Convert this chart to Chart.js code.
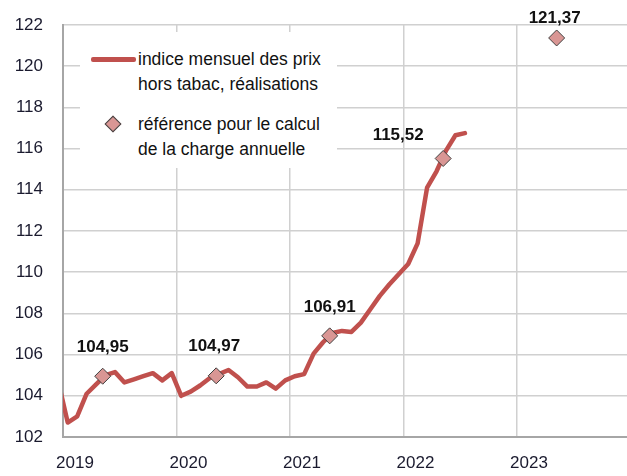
<!DOCTYPE html>
<html lang="fr">
<head>
  <meta charset="UTF-8">
  <title>Indice mensuel des prix hors tabac</title>
  <style>
    body {
      margin: 0;
      padding: 0;
      background: #fff;
      font-family: 'Liberation Sans', Arial, sans-serif;
    }
    #wrap {
      position: relative;
      width: 627px;
      height: 476px;
    }
    #legend {
      position: absolute;
      left: 80px;
      top: 32px;
      width: 257px;
      height: 136px;
      background: #fff;
      pointer-events: none;
      color: #111;
      font-size: 17.5px;
      line-height: 25px;
    }
    #legend .txt {
      position: absolute;
      left: 58px;
      white-space: nowrap;
    }
    #legend .swatch-line {
      position: absolute;
      left: 11px;
      top: 25px;
      width: 45px;
      height: 4.5px;
      background: #c0504d;
      border-radius: 2px;
    }
    #legend .swatch-diamond {
      position: absolute;
      left: 27px;
      top: 86px;
      width: 10px;
      height: 10px;
      background: #d99694;
      border: 1px solid #404040;
      transform: rotate(45deg);
    }
  </style>
</head>
<body>

<div id="wrap">
  <canvas id="chart" width="627" height="476"></canvas>
  <div id="legend">
    <div class="swatch-line"></div>
    <div class="txt" id="leg1" style="top:15px"></div>
    <div class="swatch-diamond"></div>
    <div class="txt" id="leg2" style="top:80px"></div>
  </div>
</div>

<script src="https://cdn.jsdelivr.net/npm/chart.js"></script>
<script>
  // axis
  const yearTicks = [2019, 2020, 2021, 2022, 2023];

  // monthly index, Dec 2018 -> Jul 2022 (first point is cut by the axis)
  const firstYear = 2018, firstMonth = 12;
  const monthlyIndex = [
    104.7,
    102.7, 103.0, 104.1, 104.55, 105.0, 105.15, 104.65, 104.8, 104.95, 105.1, 104.75, 105.1,
    104.0, 104.2, 104.5, 104.85, 105.05, 105.25, 104.9, 104.45, 104.45, 104.65, 104.35, 104.75,
    104.95, 105.05, 106.05, 106.6, 107.05, 107.15, 107.1, 107.55, 108.2, 108.85, 109.4, 109.9,
    110.4, 111.4, 114.1, 114.9, 115.9, 116.65, 116.75
  ];

  // reference values for the annual charge
  const refDates = [2019.35, 2020.35, 2021.35, 2022.35, 2023.35];
  const refValues = [104.95, 104.97, 106.91, 115.52, 121.37];
  const refLabels = refValues.map(v => v.toFixed(2).replace('.', ','));
  const refLabelShift = [[0, -29], [-2, -30], [0, -29], [-45, -23], [-2, -20]];

  const legendLines = [
    ['indice mensuel des prix', 'hors tabac, réalisations'],
    ['référence pour le calcul', 'de la charge annuelle']
  ];

  document.getElementById('leg1').innerHTML = legendLines[0].join('<br>');
  document.getElementById('leg2').innerHTML = legendLines[1].join('<br>');

  const linePoints = monthlyIndex.map((v, i) => {
    const m = firstMonth - 1 + i;
    return { x: firstYear + (m + 0.5) / 12, y: v };
  });
  const refPoints = refDates.map((d, i) => ({ x: d, y: refValues[i] }));

  const FONT = "'Liberation Sans', Arial, sans-serif";

  const refLabelPlugin = {
    id: 'refLabels',
    afterDatasetsDraw(chart) {
      const meta = chart.getDatasetMeta(0);
      const ctx = chart.ctx;
      ctx.save();
      ctx.font = 'bold 17px ' + FONT;
      ctx.fillStyle = '#111';
      ctx.textAlign = 'center';
      ctx.textBaseline = 'middle';
      meta.data.forEach((pt, i) => {
        const s = refLabelShift[i];
        ctx.fillText(refLabels[i], pt.x + s[0], pt.y + s[1]);
      });
      ctx.restore();
    }
  };

  new Chart(document.getElementById('chart'), {
    type: 'line',
    data: {
      datasets: [
        {
          label: 'référence pour le calcul de la charge annuelle',
          data: refPoints,
          showLine: false,
          pointStyle: 'rectRot',
          pointRadius: 8,
          pointBackgroundColor: '#d99694',
          pointBorderColor: '#404040',
          pointBorderWidth: 1,
          clip: false,
          order: 0
        },
        {
          label: 'indice mensuel des prix hors tabac, réalisations',
          data: linePoints,
          borderColor: '#c0504d',
          borderWidth: 4.5,
          pointRadius: 0,
          tension: 0,
          borderJoinStyle: 'round',
          borderCapStyle: 'round',
          fill: false,
          clip: 0,
          order: 1
        }
      ]
    },
    options: {
      responsive: false,
      animation: false,
      layout: {
        autoPadding: false,
        padding: { top: 25, right: 0, left: 0, bottom: 0 }
      },
      plugins: {
        legend: { display: false },
        tooltip: { enabled: false }
      },
      scales: {
        x: {
          type: 'linear',
          min: 2019,
          max: 2023.97,
          afterBuildTicks: scale => {
            scale.ticks = yearTicks.map(v => ({ value: v }));
          },
          afterFit: scale => {
            scale.height = 39;
            scale.paddingLeft = 0;
            scale.paddingRight = 0;
          },
          ticks: {
            callback: v => String(v),
            labelOffset: 12,
            padding: 16,
            maxRotation: 0,
            color: '#1a1a2e',
            font: { family: FONT, size: 17 }
          },
          grid: { color: '#d0d0d0', lineWidth: 1.5, drawTicks: false },
          border: { display: true, color: '#a6a6a6', width: 2 }
        },
        y: {
          min: 102,
          max: 122,
          ticks: {
            stepSize: 2,
            callback: v => String(v),
            padding: 20,
            color: '#1a1a2e',
            font: { family: FONT, size: 17 }
          },
          afterFit: scale => {
            scale.width = 63;
            scale.paddingTop = 0;
            scale.paddingBottom = 0;
          },
          grid: { color: '#d0d0d0', lineWidth: 1.5, drawTicks: false },
          border: { display: true, color: '#a6a6a6', width: 2 }
        }
      }
    },
    plugins: [refLabelPlugin]
  });
</script>

</body>
</html>
